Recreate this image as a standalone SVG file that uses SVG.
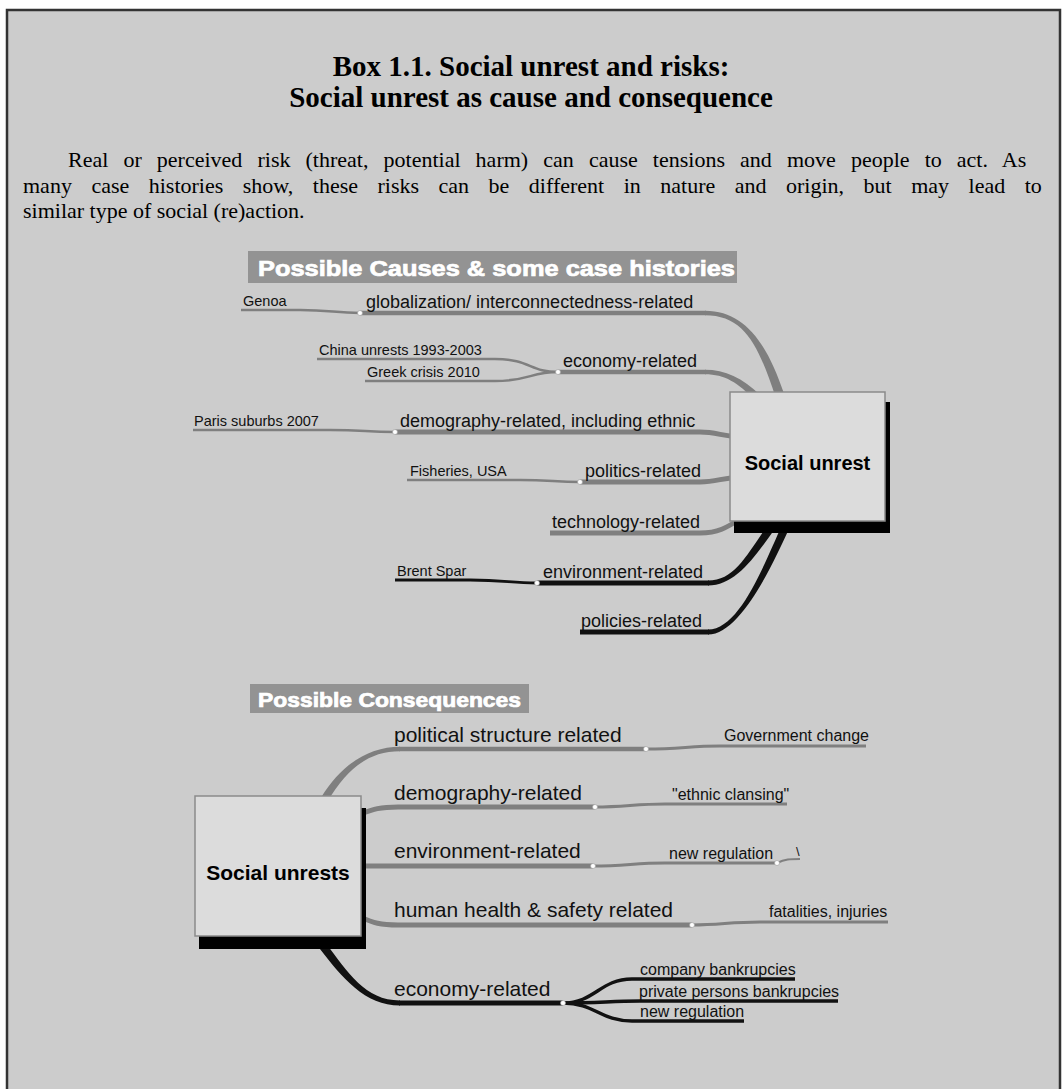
<svg xmlns="http://www.w3.org/2000/svg" width="1062" height="1089" viewBox="0 0 1062 1089">
<style>
.frame{fill:#cccccc;stroke:#333;stroke-width:2.5}
.title{font-family:"Liberation Serif","Times New Roman",serif;font-weight:bold;font-size:29px;fill:#000;text-anchor:middle}
.para{font-family:"Liberation Serif","Times New Roman",serif;font-size:22px;fill:#000}
.hdr{fill:#939393}
.hdrt{font-family:"Liberation Sans",Arial,sans-serif;font-weight:bold;fill:#fff;stroke:#fff;stroke-width:0.7}
.box{fill:#dcdcdc;stroke:#8a8a8a;stroke-width:1.5}
.shadow{fill:#000}
.nodet{font-family:"Liberation Sans",Arial,sans-serif;font-weight:bold;fill:#000;text-anchor:middle}
.lbl{font-family:"Liberation Sans",Arial,sans-serif;fill:#111}
.m18{font-size:18px}
.m21{font-size:21px}
.s14{font-size:14.5px}
.s16{font-size:16px}
.g{fill:none;stroke:#7f7f7f}
.k{fill:none;stroke:#111}
.gf{fill:#7f7f7f}
.kf{fill:#111}
.dot{fill:#fff;stroke:#999;stroke-width:0.6}
</style>
<rect class="frame" x="7" y="10" width="1053" height="1100"/>
<g id="title">
<text class="title" x="531" y="76">Box 1.1. Social unrest and risks:</text>
<text class="title" x="531" y="107">Social unrest as cause and consequence</text>
</g>
<g id="paragraph">
<text class="para" x="68" y="167" word-spacing="9.6">Real or perceived risk (threat, potential harm) can cause tensions and move people to act. As</text>
<text class="para" x="23" y="192.5" word-spacing="14">many case histories show, these risks can be different in nature and origin, but may lead to</text>
<text class="para" x="23" y="218">similar type of social (re)action.</text>
</g>
<g id="header-causes">
<rect class="hdr" x="248" y="251" width="489" height="32"/>
<text class="hdrt" x="258" y="276" font-size="22" textLength="477" lengthAdjust="spacingAndGlyphs">Possible Causes &amp; some case histories</text>
</g>
<g id="header-consequences">
<rect class="hdr" x="250" y="684" width="279" height="29"/>
<text class="hdrt" x="258" y="707" font-size="19.5" textLength="263" lengthAdjust="spacingAndGlyphs">Possible Consequences</text>
</g>
<g id="connectors">
<path class="g" stroke-width="4.5" d="M360,313 L706,313"/>
<path class="gf" d="M705,310.75 C745,310.75 767.3,343.6 784.3,394.6 L775.7,397.4 C758.7,346.4 745,315.25 705,315.25 Z"/>
<path class="g" stroke-width="4.5" d="M558,372 L706,372"/>
<path class="gf" d="M705,369.75 C725,369.75 742.5,377.5 760.5,395.5 L755.5,400.5 C737.5,382.5 725,374.25 705,374.25 Z"/>
<path class="g" stroke-width="4.8" d="M395,432 L700,432 C716,432 722,436 740,437"/>
<path class="g" stroke-width="4.8" d="M580,482 L700,482 C716,482 722,478 740,477"/>
<path class="g" stroke-width="4.8" d="M550,533 L700,533 C718,533 726,528 742,518"/>
<path class="k" stroke-width="5" d="M537,583 L709,583"/>
<path class="kf" d="M708,585.5 C735,585.5 753.3,559.3 775.3,528.3 L768.7,523.7 C746.7,554.7 735,580.5 708,580.5 Z"/>
<path class="k" stroke-width="5" d="M580,632 L709,632"/>
<path class="kf" d="M708,634.5 C740,634.5 771.6,566.7 789.6,527.7 L782.4,524.3 C764.4,563.3 740,629.5 708,629.5 Z"/>
<path class="g" stroke-width="2.5" d="M241,310 L300,310 C330,310 335,313 360,313"/>
<path class="g" stroke-width="2.5" d="M317,359 L495,359 C530,359 530,372 558,372"/>
<path class="g" stroke-width="2.5" d="M365,381 L495,381 C530,381 530,372 558,372"/>
<path class="g" stroke-width="2.5" d="M193,430 L330,430 C365,430 365,432 395,432"/>
<path class="g" stroke-width="2.5" d="M407,480 L520,480 C550,480 555,482 580,482"/>
<path class="k" stroke-width="2.8" d="M395,580 L470,580 C505,580 510,583 537,583"/>
<path class="gf" d="M400,746.75 C370,746.75 341.8,763.1 320.8,798.1 L327.2,801.9 C348.2,766.9 370,751.25 400,751.25 Z"/>
<path class="g" stroke-width="4.5" d="M399,749 L646,749"/>
<path class="g" stroke-width="3" d="M646,749 C680,749 690,746 720,746 L866,746"/>
<path class="g" stroke-width="5" d="M360,814 C374,809 380,807 398,807 L595,807"/>
<path class="g" stroke-width="3" d="M595,807 C625,807 635,804 665,804 L787,804"/>
<path class="g" stroke-width="5" d="M360,866 L593,866"/>
<path class="g" stroke-width="3" d="M593,866 C625,866 635,863 665,863 L777,863"/>
<path class="g" stroke-width="2" d="M777,863 C785,859 790,859 800,859"/>
<path class="g" stroke-width="5" d="M360,917 C374,923 380,925 398,925 L692,925"/>
<path class="g" stroke-width="3" d="M692,925 C720,925 730,922 760,922 L888,922"/>
<path class="kf" d="M400,1000.5 C365,1000.5 348.2,972.6 325.2,942.6 L318.8,947.4 C341.8,977.4 365,1005.5 400,1005.5 Z"/>
<path class="k" stroke-width="5" d="M399,1003 L563,1003"/>
<path class="k" stroke-width="3.5" d="M563,1003 C595,1003 600,979 632,979 L795,979"/>
<path class="k" stroke-width="3.5" d="M563,1003 C600,1003 610,1001 640,1001 L838,1001"/>
<path class="k" stroke-width="3.5" d="M563,1003 C595,1003 600,1021 632,1021 L744,1021"/>
<circle class="dot" cx="360" cy="313" r="2.5"/>
<circle class="dot" cx="558" cy="372" r="2.5"/>
<circle class="dot" cx="395" cy="432" r="2.5"/>
<circle class="dot" cx="580" cy="482" r="2.5"/>
<circle class="dot" cx="537" cy="583" r="2.5"/>
<circle class="dot" cx="646" cy="749" r="2.5"/>
<circle class="dot" cx="595" cy="807" r="2.5"/>
<circle class="dot" cx="593" cy="866" r="2.5"/>
<circle class="dot" cx="777" cy="863" r="2.5"/>
<circle class="dot" cx="692" cy="925" r="2.5"/>
<circle class="dot" cx="563" cy="1003" r="2.5"/>
</g>
<g id="node-social-unrest">
<rect class="shadow" x="734" y="402" width="156" height="131"/>
<rect class="box" x="730" y="392" width="155" height="129"/>
<text class="nodet" x="807.5" y="470" font-size="20">Social unrest</text>
</g>
<g id="node-social-unrests">
<rect class="shadow" x="199" y="808" width="167" height="141"/>
<rect class="box" x="195" y="796" width="166" height="140"/>
<text class="nodet" x="278" y="880" font-size="21">Social unrests</text>
</g>
<g id="cause-labels">
<text class="lbl m18" x="366" y="307.5">globalization/ interconnectedness-related</text>
<text class="lbl m18" x="563" y="366.5">economy-related</text>
<text class="lbl m18" x="400" y="426.5">demography-related, including ethnic</text>
<text class="lbl m18" x="585" y="476.5">politics-related</text>
<text class="lbl m18" x="552" y="527.5">technology-related</text>
<text class="lbl m18" x="543" y="577.5">environment-related</text>
<text class="lbl m18" x="581" y="626.5">policies-related</text>
<text class="lbl s14" x="243" y="306">Genoa</text>
<text class="lbl s14" x="319" y="355">China unrests 1993-2003</text>
<text class="lbl s14" x="367" y="377">Greek crisis 2010</text>
<text class="lbl s14" x="194" y="426">Paris suburbs 2007</text>
<text class="lbl s14" x="410" y="476">Fisheries, USA</text>
<text class="lbl s14" x="397" y="576">Brent Spar</text>
</g>
<g id="consequence-labels">
<text class="lbl m21" x="394" y="742">political structure related</text>
<text class="lbl m21" x="394" y="800">demography-related</text>
<text class="lbl m21" x="394" y="858">environment-related</text>
<text class="lbl m21" x="394" y="917">human health &amp; safety related</text>
<text class="lbl m21" x="394" y="996">economy-related</text>
<text class="lbl s16" x="724" y="741">Government change</text>
<text class="lbl s16" x="672" y="800">"ethnic clansing"</text>
<text class="lbl s16" x="669" y="859">new regulation</text>
<text class="lbl" font-size="13" x="796" y="856">\</text>
<text class="lbl s16" x="769" y="917">fatalities, injuries</text>
<text class="lbl s16" x="640" y="975">company bankrupcies</text>
<text class="lbl s16" x="639" y="997">private persons bankrupcies</text>
<text class="lbl s16" x="640" y="1017">new regulation</text>
</g>
</svg>
